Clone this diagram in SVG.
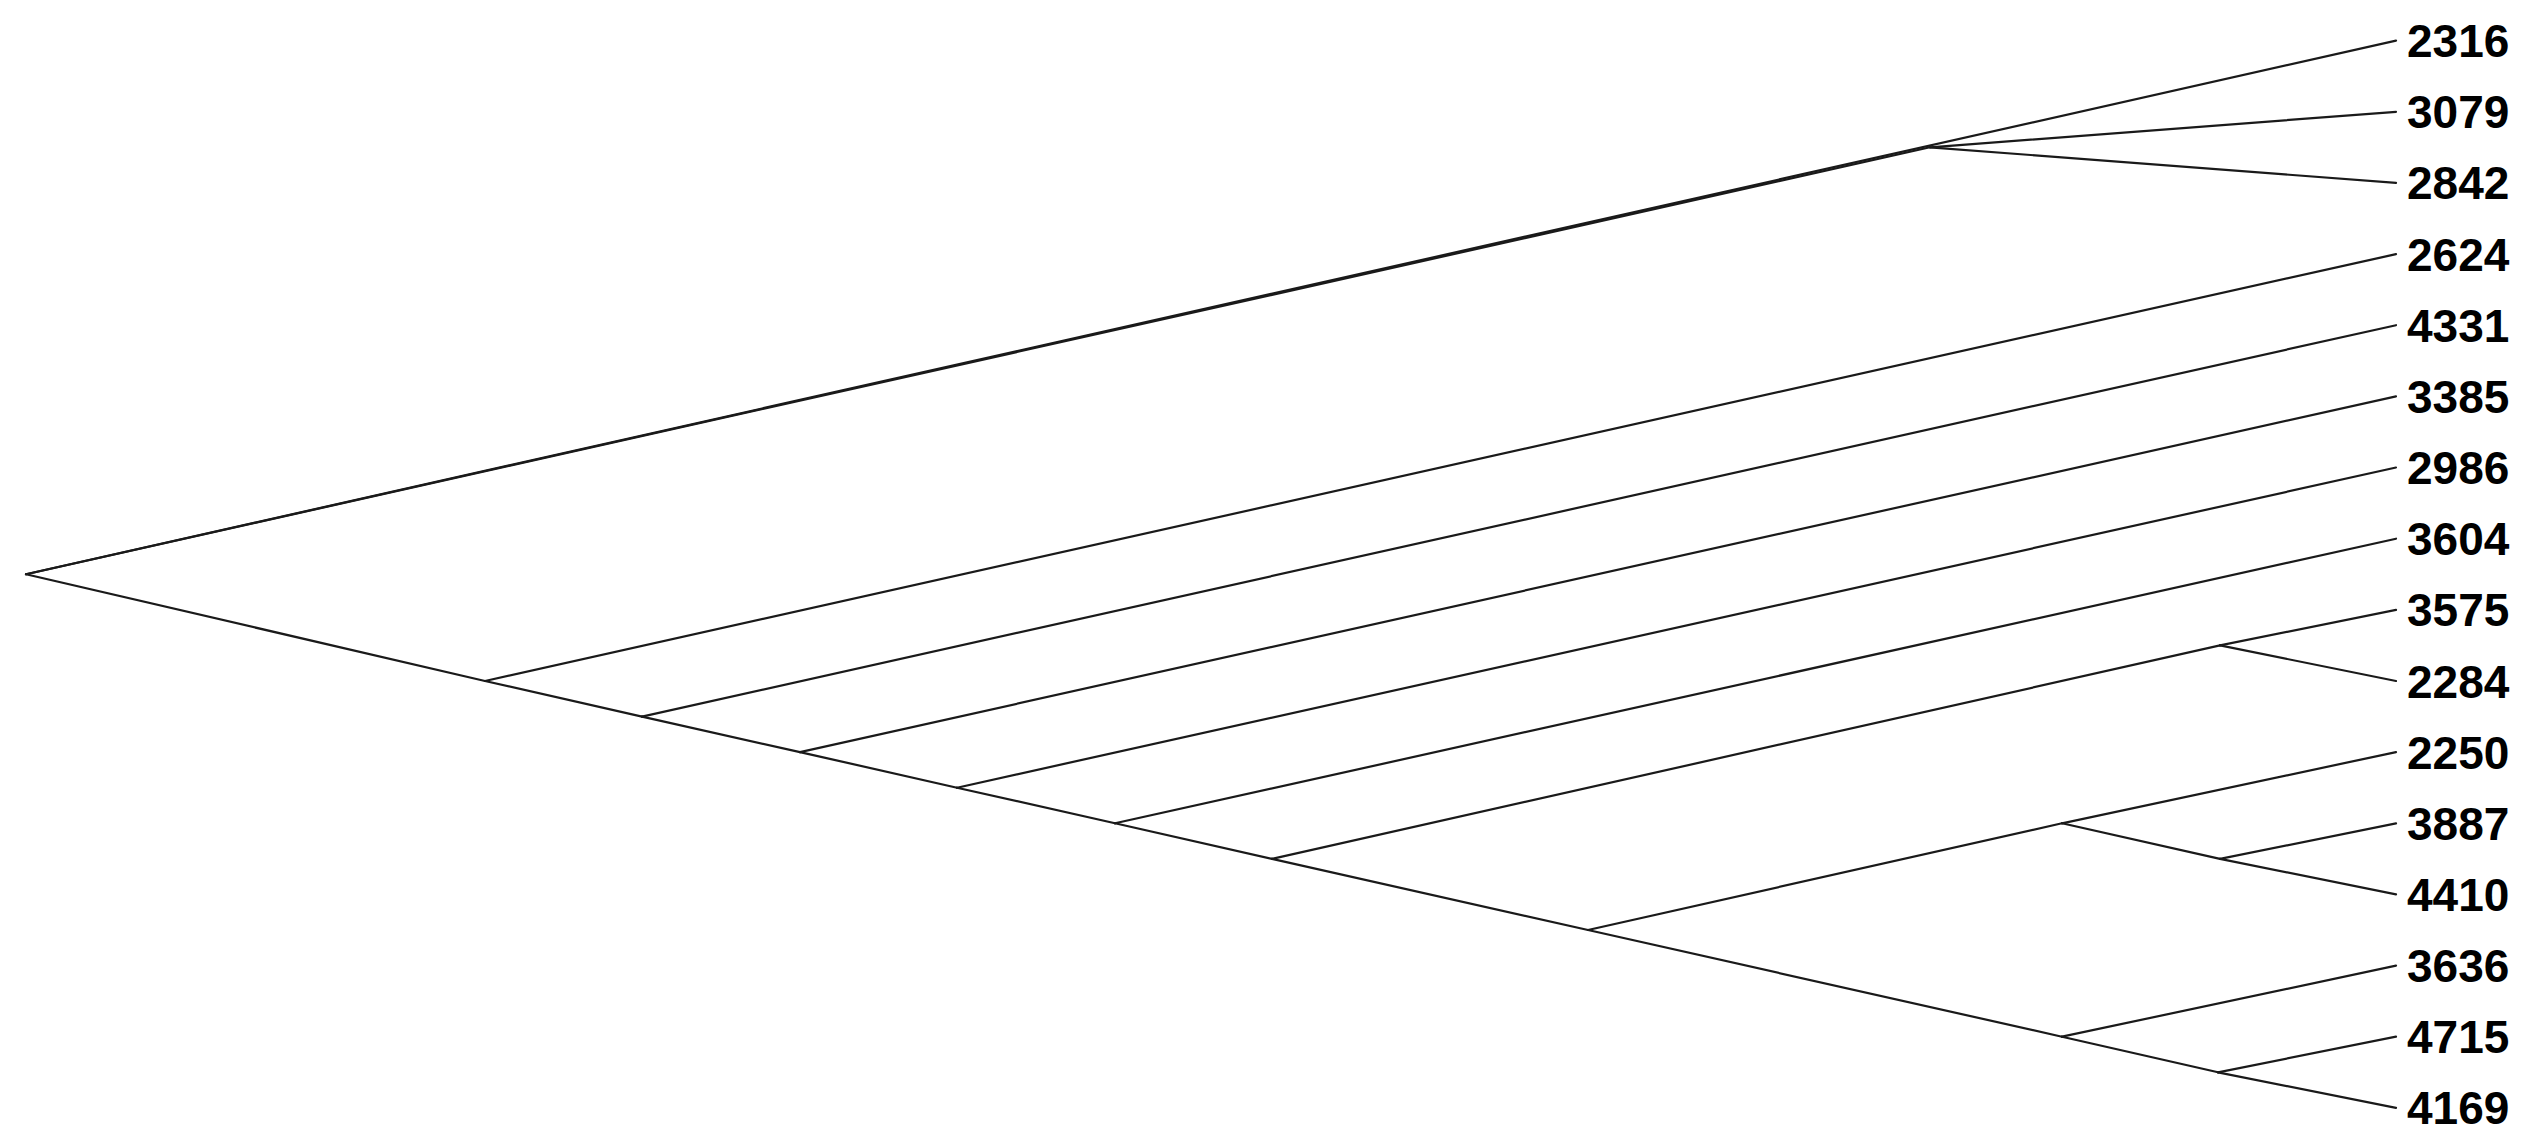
<svg xmlns="http://www.w3.org/2000/svg" width="2541" height="1142" viewBox="0 0 2541 1142">
<style>
.e{stroke:#1a1a1a;stroke-width:2.2;fill:none;stroke-linecap:round}
.l{font-family:"Liberation Sans",Arial,sans-serif;font-weight:bold;font-size:46px;fill:#000}
</style>
<rect width="2541" height="1142" fill="#fff"/>
<g id="connectors">
<line class="e" x1="26" y1="574.2" x2="2396" y2="40.6"/>
<line class="e" x1="26" y1="574.2" x2="1930" y2="147.3"/>
<line class="e" x1="1930" y1="147.3" x2="2396" y2="111.8"/>
<line class="e" x1="1930" y1="147.3" x2="2396" y2="182.9"/>
<line class="e" x1="26" y1="574.2" x2="485" y2="681"/>
<line class="e" x1="485" y1="681" x2="2396" y2="254.1"/>
<line class="e" x1="485" y1="681" x2="642" y2="716.6"/>
<line class="e" x1="642" y1="716.6" x2="2396" y2="325.2"/>
<line class="e" x1="642" y1="716.6" x2="800" y2="752.1"/>
<line class="e" x1="800" y1="752.1" x2="2396" y2="396.4"/>
<line class="e" x1="800" y1="752.1" x2="957" y2="787.7"/>
<line class="e" x1="957" y1="787.7" x2="2396" y2="467.5"/>
<line class="e" x1="957" y1="787.7" x2="1115" y2="823.3"/>
<line class="e" x1="1115" y1="823.3" x2="2396" y2="538.7"/>
<line class="e" x1="1115" y1="823.3" x2="1272" y2="858.9"/>
<line class="e" x1="1272" y1="858.9" x2="2220" y2="645.4"/>
<line class="e" x1="2220" y1="645.4" x2="2396" y2="609.8"/>
<line class="e" x1="2220" y1="645.4" x2="2396" y2="681"/>
<line class="e" x1="1272" y1="858.9" x2="1588" y2="930"/>
<line class="e" x1="1588" y1="930" x2="2062" y2="823.3"/>
<line class="e" x1="2062" y1="823.3" x2="2396" y2="752.1"/>
<line class="e" x1="2062" y1="823.3" x2="2220" y2="858.9"/>
<line class="e" x1="2220" y1="858.9" x2="2396" y2="823.3"/>
<line class="e" x1="2220" y1="858.9" x2="2396" y2="894.4"/>
<line class="e" x1="1588" y1="930" x2="2062" y2="1036.7"/>
<line class="e" x1="2062" y1="1036.7" x2="2396" y2="965.6"/>
<line class="e" x1="2062" y1="1036.7" x2="2218" y2="1072.3"/>
<line class="e" x1="2218" y1="1072.3" x2="2396" y2="1036.7"/>
<line class="e" x1="2218" y1="1072.3" x2="2396" y2="1107.9"/>
</g>
<g id="leaf-2316"><text class="l" x="2407" y="57.1">2316</text></g>
<g id="leaf-3079"><text class="l" x="2407" y="128.3">3079</text></g>
<g id="leaf-2842"><text class="l" x="2407" y="199.4">2842</text></g>
<g id="leaf-2624"><text class="l" x="2407" y="270.6">2624</text></g>
<g id="leaf-4331"><text class="l" x="2407" y="341.7">4331</text></g>
<g id="leaf-3385"><text class="l" x="2407" y="412.9">3385</text></g>
<g id="leaf-2986"><text class="l" x="2407" y="484">2986</text></g>
<g id="leaf-3604"><text class="l" x="2407" y="555.2">3604</text></g>
<g id="leaf-3575"><text class="l" x="2407" y="626.3">3575</text></g>
<g id="leaf-2284"><text class="l" x="2407" y="697.5">2284</text></g>
<g id="leaf-2250"><text class="l" x="2407" y="768.6">2250</text></g>
<g id="leaf-3887"><text class="l" x="2407" y="839.8">3887</text></g>
<g id="leaf-4410"><text class="l" x="2407" y="910.9">4410</text></g>
<g id="leaf-3636"><text class="l" x="2407" y="982.1">3636</text></g>
<g id="leaf-4715"><text class="l" x="2407" y="1053.2">4715</text></g>
<g id="leaf-4169"><text class="l" x="2407" y="1124.4">4169</text></g>
</svg>
